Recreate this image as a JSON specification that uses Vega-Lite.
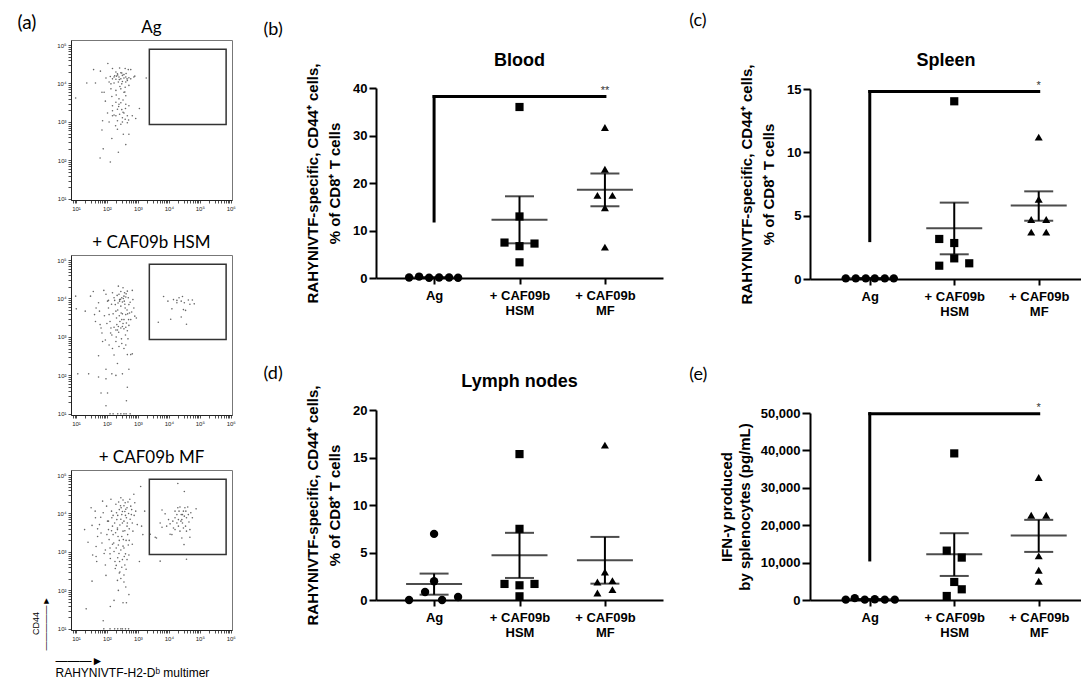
{
"$schema":"https://vega.github.io/schema/vega-lite/v6.json",
"background":"white",
"padding":{"left":17,"top":11,"right":0,"bottom":0},
"config":{"font":"Liberation Sans","view":{"stroke":null},"axis":{"labelOverlap":false,"tickCount":100}},
"datasets":{
"gate":[{"x1":3.37,"x2":5.85,"y1":2.93,"y2":4.89}],
"flowAg":[{"x":2.03,"y":4.52},{"x":1.57,"y":4.36},{"x":1.79,"y":4.32},{"x":2.18,"y":4.39},{"x":2.41,"y":4.40},{"x":2.59,"y":4.39},{"x":2.69,"y":4.36},{"x":2.77,"y":4.36},{"x":2.29,"y":4.30},{"x":2.34,"y":4.25},{"x":2.48,"y":4.27},{"x":2.55,"y":4.23},{"x":1.97,"y":4.14},{"x":2.11,"y":4.18},{"x":2.23,"y":4.17},{"x":2.31,"y":4.19},{"x":2.39,"y":4.17},{"x":2.50,"y":4.21},{"x":2.61,"y":4.17},{"x":2.71,"y":4.15},{"x":2.87,"y":4.17},{"x":2.90,"y":4.19},{"x":2.77,"y":4.12},{"x":2.66,"y":4.08},{"x":2.45,"y":4.12},{"x":2.29,"y":4.11},{"x":2.18,"y":4.12},{"x":2.07,"y":4.04},{"x":2.13,"y":3.99},{"x":2.23,"y":4.01},{"x":2.37,"y":4.04},{"x":2.48,"y":3.99},{"x":2.61,"y":4.04},{"x":2.71,"y":3.95},{"x":2.59,"y":3.90},{"x":1.35,"y":4.01},{"x":1.63,"y":4.01},{"x":0.99,"y":3.62},{"x":1.84,"y":3.77},{"x":1.91,"y":3.77},{"x":2.13,"y":3.86},{"x":2.29,"y":3.82},{"x":2.45,"y":3.86},{"x":2.55,"y":3.77},{"x":2.61,"y":3.68},{"x":2.39,"y":3.60},{"x":2.16,"y":3.66},{"x":1.95,"y":3.54},{"x":2.52,"y":3.57},{"x":2.29,"y":3.51},{"x":2.18,"y":3.42},{"x":2.39,"y":3.46},{"x":2.61,"y":3.46},{"x":2.71,"y":3.42},{"x":3.05,"y":3.35},{"x":3.27,"y":4.14},{"x":2.18,"y":3.29},{"x":2.34,"y":3.33},{"x":2.48,"y":3.32},{"x":2.55,"y":3.23},{"x":2.66,"y":3.16},{"x":2.82,"y":3.16},{"x":2.93,"y":3.09},{"x":2.29,"y":3.16},{"x":2.18,"y":3.16},{"x":2.07,"y":3.00},{"x":1.86,"y":3.03},{"x":2.34,"y":3.03},{"x":2.50,"y":3.00},{"x":2.59,"y":3.07},{"x":2.66,"y":2.98},{"x":2.45,"y":2.94},{"x":2.34,"y":2.81},{"x":1.84,"y":2.79},{"x":2.16,"y":2.57},{"x":2.53,"y":2.68},{"x":2.71,"y":2.68},{"x":2.61,"y":2.41},{"x":1.88,"y":2.30},{"x":2.37,"y":2.21},{"x":1.78,"y":2.06},{"x":2.11,"y":1.96},{"x":2.23,"y":3.18},{"x":2.41,"y":3.20},{"x":2.50,"y":3.11},{"x":2.02,"y":3.23},{"x":2.35,"y":4.22},{"x":2.45,"y":4.28},{"x":2.55,"y":4.14},{"x":2.62,"y":4.26},{"x":2.40,"y":4.10},{"x":2.25,"y":4.20},{"x":2.50,"y":4.05},{"x":2.65,"y":4.12},{"x":2.42,"y":3.92},{"x":2.58,"y":3.78},{"x":2.30,"y":3.70},{"x":2.45,"y":3.50},{"x":2.60,"y":3.35},{"x":2.38,"y":3.40},{"x":2.52,"y":3.25},{"x":2.70,"y":3.05},{"x":2.28,"y":2.90}],
"flowHSM":[{"x":0.99,"y":4.06},{"x":1.01,"y":3.73},{"x":1.30,"y":3.67},{"x":1.47,"y":4.06},{"x":1.56,"y":4.18},{"x":1.65,"y":3.75},{"x":1.60,"y":3.58},{"x":1.63,"y":3.40},{"x":1.73,"y":3.89},{"x":1.76,"y":3.67},{"x":1.78,"y":3.32},{"x":1.81,"y":3.23},{"x":1.84,"y":3.10},{"x":1.86,"y":2.88},{"x":1.90,"y":4.21},{"x":1.97,"y":4.11},{"x":2.02,"y":3.93},{"x":2.05,"y":3.75},{"x":2.07,"y":3.58},{"x":2.10,"y":3.40},{"x":2.13,"y":3.23},{"x":2.16,"y":3.05},{"x":2.18,"y":4.15},{"x":2.23,"y":4.02},{"x":2.27,"y":3.84},{"x":2.29,"y":3.67},{"x":2.31,"y":3.49},{"x":2.32,"y":3.32},{"x":2.34,"y":3.18},{"x":2.37,"y":4.32},{"x":2.39,"y":4.11},{"x":2.41,"y":3.97},{"x":2.45,"y":3.80},{"x":2.46,"y":3.62},{"x":2.48,"y":3.45},{"x":2.50,"y":3.27},{"x":2.52,"y":4.28},{"x":2.55,"y":4.06},{"x":2.56,"y":3.93},{"x":2.59,"y":3.75},{"x":2.61,"y":3.58},{"x":2.63,"y":3.36},{"x":2.66,"y":4.19},{"x":2.69,"y":4.02},{"x":2.71,"y":3.84},{"x":2.73,"y":3.62},{"x":2.77,"y":3.45},{"x":2.82,"y":4.21},{"x":2.84,"y":3.97},{"x":2.87,"y":3.75},{"x":2.90,"y":3.54},{"x":2.95,"y":3.49},{"x":2.48,"y":4.02},{"x":2.53,"y":4.00},{"x":2.61,"y":4.04},{"x":2.41,"y":3.93},{"x":2.50,"y":3.91},{"x":2.37,"y":3.27},{"x":2.45,"y":3.23},{"x":2.55,"y":3.21},{"x":2.61,"y":3.25},{"x":2.23,"y":3.25},{"x":2.29,"y":3.18},{"x":2.66,"y":3.16},{"x":2.71,"y":3.30},{"x":1.73,"y":2.51},{"x":1.95,"y":2.92},{"x":2.07,"y":2.79},{"x":2.18,"y":2.70},{"x":2.23,"y":2.53},{"x":2.29,"y":2.88},{"x":2.39,"y":2.75},{"x":2.48,"y":2.83},{"x":2.55,"y":2.70},{"x":2.61,"y":2.79},{"x":2.66,"y":2.54},{"x":2.82,"y":2.56},{"x":2.77,"y":2.54},{"x":2.34,"y":2.31},{"x":1.97,"y":2.16},{"x":2.16,"y":2.04},{"x":2.29,"y":2.00},{"x":2.50,"y":2.04},{"x":2.71,"y":2.16},{"x":1.06,"y":2.04},{"x":1.41,"y":2.04},{"x":1.73,"y":1.96},{"x":1.97,"y":1.91},{"x":1.81,"y":1.54},{"x":2.02,"y":1.54},{"x":2.66,"y":1.69},{"x":2.63,"y":1.34},{"x":1.97,"y":1.21},{"x":2.10,"y":1.0},{"x":2.20,"y":1.0},{"x":2.35,"y":1.0},{"x":2.45,"y":1.0},{"x":2.55,"y":1.0},{"x":2.62,"y":1.0},{"x":2.75,"y":1.0},{"x":2.15,"y":3.85},{"x":2.20,"y":3.60},{"x":2.25,"y":3.95},{"x":2.35,"y":3.70},{"x":2.40,"y":3.55},{"x":2.42,"y":3.40},{"x":2.50,"y":3.60},{"x":2.55,"y":3.45},{"x":2.58,"y":3.85},{"x":2.65,"y":3.70},{"x":2.70,"y":3.45},{"x":2.75,"y":3.90},{"x":2.80,"y":3.65},{"x":2.33,"y":4.08},{"x":2.45,"y":4.18},{"x":2.62,"y":4.12},{"x":2.52,"y":3.35},{"x":2.38,"y":3.12},{"x":2.30,"y":3.00},{"x":2.60,"y":3.05},{"x":2.68,"y":2.95},{"x":2.47,"y":2.95},{"x":2.12,"y":3.10},{"x":2.00,"y":3.35},{"x":1.92,"y":3.55},{"x":2.05,"y":3.95},{"x":2.57,"y":4.15},{"x":2.44,"y":3.98},{"x":2.36,"y":3.88},{"x":2.67,"y":3.60},{"x":3.83,"y":4.05},{"x":3.97,"y":3.93},{"x":4.15,"y":3.97},{"x":4.26,"y":3.95},{"x":4.33,"y":4.02},{"x":4.44,"y":4.05},{"x":4.40,"y":3.93},{"x":4.63,"y":3.96},{"x":4.76,"y":3.96},{"x":4.82,"y":3.86},{"x":4.47,"y":3.71},{"x":4.54,"y":3.69},{"x":4.10,"y":3.73},{"x":4.40,"y":3.52},{"x":4.06,"y":3.46},{"x":3.66,"y":3.38},{"x":4.57,"y":3.33},{"x":4.26,"y":3.89},{"x":4.50,"y":3.89},{"x":4.68,"y":3.85}],
"flowMF":[{"x":1.28,"y":3.58},{"x":1.39,"y":3.25},{"x":1.49,"y":4.15},{"x":1.52,"y":3.69},{"x":1.54,"y":2.92},{"x":1.62,"y":4.06},{"x":1.63,"y":3.89},{"x":1.65,"y":3.14},{"x":1.67,"y":2.75},{"x":1.70,"y":3.40},{"x":1.76,"y":3.71},{"x":1.81,"y":3.49},{"x":1.84,"y":3.23},{"x":1.86,"y":4.32},{"x":1.88,"y":4.02},{"x":1.91,"y":2.96},{"x":1.95,"y":2.66},{"x":1.97,"y":2.39},{"x":1.99,"y":4.19},{"x":2.02,"y":3.80},{"x":2.05,"y":3.58},{"x":2.07,"y":3.32},{"x":2.10,"y":3.10},{"x":2.11,"y":2.83},{"x":2.13,"y":4.37},{"x":2.15,"y":4.06},{"x":2.16,"y":3.89},{"x":2.18,"y":3.67},{"x":2.20,"y":3.45},{"x":2.22,"y":3.23},{"x":2.23,"y":3.01},{"x":2.26,"y":2.75},{"x":2.27,"y":2.57},{"x":2.29,"y":4.24},{"x":2.31,"y":4.02},{"x":2.32,"y":3.84},{"x":2.34,"y":3.62},{"x":2.36,"y":3.40},{"x":2.37,"y":3.18},{"x":2.39,"y":2.96},{"x":2.41,"y":2.75},{"x":2.42,"y":2.48},{"x":2.45,"y":4.41},{"x":2.46,"y":4.15},{"x":2.48,"y":3.97},{"x":2.50,"y":3.75},{"x":2.52,"y":3.54},{"x":2.53,"y":3.32},{"x":2.55,"y":3.10},{"x":2.56,"y":2.88},{"x":2.58,"y":2.66},{"x":2.59,"y":4.28},{"x":2.61,"y":4.11},{"x":2.63,"y":3.89},{"x":2.65,"y":3.67},{"x":2.67,"y":3.45},{"x":2.69,"y":3.18},{"x":2.71,"y":2.92},{"x":2.74,"y":4.37},{"x":2.77,"y":4.19},{"x":2.79,"y":3.97},{"x":2.82,"y":3.75},{"x":2.84,"y":3.54},{"x":2.87,"y":4.50},{"x":2.90,"y":4.28},{"x":2.93,"y":4.06},{"x":2.98,"y":3.71},{"x":3.05,"y":2.75},{"x":3.12,"y":3.67},{"x":3.16,"y":3.45},{"x":3.09,"y":4.70},{"x":3.22,"y":4.06},{"x":2.34,"y":2.26},{"x":2.45,"y":2.31},{"x":2.55,"y":2.22},{"x":2.37,"y":2.00},{"x":2.61,"y":2.09},{"x":2.71,"y":1.89},{"x":2.23,"y":1.74},{"x":2.52,"y":1.68},{"x":2.63,"y":1.68},{"x":2.11,"y":1.58},{"x":1.52,"y":2.24},{"x":1.33,"y":1.52},{"x":1.88,"y":1.21},{"x":1.65,"y":2.88},{"x":2.40,"y":4.10},{"x":2.50,"y":4.05},{"x":2.55,"y":4.20},{"x":2.60,"y":3.95},{"x":2.65,"y":4.15},{"x":2.70,"y":4.00},{"x":2.45,"y":3.85},{"x":2.55,"y":3.80},{"x":2.35,"y":3.95},{"x":2.42,"y":3.70},{"x":2.58,"y":3.55},{"x":2.48,"y":3.40},{"x":2.40,"y":3.30},{"x":2.62,"y":3.30},{"x":2.52,"y":3.15},{"x":2.45,"y":3.05},{"x":2.60,"y":2.95},{"x":2.35,"y":2.85},{"x":2.50,"y":2.80},{"x":2.65,"y":2.80},{"x":2.30,"y":3.10},{"x":2.28,"y":3.50},{"x":2.25,"y":3.75},{"x":2.72,"y":3.60},{"x":2.75,"y":3.85},{"x":2.68,"y":4.30},{"x":2.52,"y":4.35},{"x":2.38,"y":4.30},{"x":2.80,"y":4.10},{"x":2.20,"y":3.95},{"x":2.18,"y":3.20},{"x":2.15,"y":3.55},{"x":2.05,"y":3.80},{"x":2.00,"y":3.45},{"x":1.95,"y":3.05},{"x":2.10,"y":2.95},{"x":2.30,"y":2.65},{"x":2.48,"y":2.60},{"x":2.62,"y":2.55},{"x":2.40,"y":2.45},{"x":2.55,"y":2.40},{"x":2.72,"y":3.30},{"x":2.82,"y":3.20},{"x":2.88,"y":3.95},{"x":1.80,"y":3.90},{"x":1.70,"y":3.60},{"x":2.58,"y":4.05},{"x":2.44,"y":4.20},{"x":2.66,"y":3.75},{"x":2.34,"y":3.58},{"x":1.90,"y":1.0},{"x":2.10,"y":1.0},{"x":2.25,"y":1.0},{"x":2.35,"y":1.0},{"x":2.45,"y":1.0},{"x":2.50,"y":1.0},{"x":2.60,"y":1.0},{"x":2.70,"y":1.0},{"x":4.29,"y":4.78},{"x":4.50,"y":4.57},{"x":3.78,"y":4.09},{"x":3.88,"y":3.99},{"x":3.72,"y":3.75},{"x":3.78,"y":3.64},{"x":3.99,"y":3.84},{"x":4.04,"y":3.73},{"x":4.13,"y":3.80},{"x":4.20,"y":3.89},{"x":4.26,"y":3.97},{"x":4.29,"y":4.15},{"x":4.33,"y":4.06},{"x":4.36,"y":4.17},{"x":4.40,"y":3.97},{"x":4.42,"y":3.84},{"x":4.44,"y":3.75},{"x":4.47,"y":4.06},{"x":4.50,"y":3.93},{"x":4.52,"y":4.15},{"x":4.54,"y":3.67},{"x":4.57,"y":3.89},{"x":4.61,"y":4.17},{"x":4.63,"y":3.97},{"x":4.65,"y":3.78},{"x":4.68,"y":3.58},{"x":4.71,"y":4.02},{"x":4.76,"y":3.89},{"x":4.88,"y":4.12},{"x":4.31,"y":3.67},{"x":4.20,"y":3.58},{"x":4.36,"y":3.54},{"x":4.10,"y":3.45},{"x":4.04,"y":3.46},{"x":4.42,"y":3.36},{"x":4.68,"y":3.38},{"x":4.49,"y":3.19},{"x":3.56,"y":3.38},{"x":3.60,"y":3.36},{"x":4.26,"y":3.75},{"x":4.39,"y":3.80},{"x":4.47,"y":3.62},{"x":4.57,"y":3.54},{"x":4.31,"y":3.84},{"x":4.44,"y":3.97},{"x":4.55,"y":4.06},{"x":4.20,"y":4.06},{"x":3.93,"y":3.67},{"x":4.15,"y":3.62},{"x":3.72,"y":2.76},{"x":4.57,"y":2.81},{"x":3.40,"y":3.46}],
"dots":[
{"panel":"b","group":"Ag","value":0.1,"jitter":-25},{"panel":"b","group":"Ag","value":0.3,"jitter":-15},{"panel":"b","group":"Ag","value":0.05,"jitter":-5},{"panel":"b","group":"Ag","value":0.1,"jitter":5},{"panel":"b","group":"Ag","value":0.1,"jitter":15},{"panel":"b","group":"Ag","value":0.05,"jitter":24},
{"panel":"b","group":"+ CAF09b HSM","value":36.0,"jitter":0},{"panel":"b","group":"+ CAF09b HSM","value":12.96,"jitter":0},{"panel":"b","group":"+ CAF09b HSM","value":7.46,"jitter":-15},{"panel":"b","group":"+ CAF09b HSM","value":6.7,"jitter":0},{"panel":"b","group":"+ CAF09b HSM","value":7.25,"jitter":15},{"panel":"b","group":"+ CAF09b HSM","value":3.3,"jitter":0},
{"panel":"b","group":"+ CAF09b MF","value":31.7,"jitter":0},{"panel":"b","group":"+ CAF09b MF","value":22.9,"jitter":0},{"panel":"b","group":"+ CAF09b MF","value":17.4,"jitter":-7.5},{"panel":"b","group":"+ CAF09b MF","value":17.4,"jitter":7.5},{"panel":"b","group":"+ CAF09b MF","value":14.8,"jitter":0},{"panel":"b","group":"+ CAF09b MF","value":6.5,"jitter":0},
{"panel":"c","group":"Ag","value":0.05,"jitter":-24},{"panel":"c","group":"Ag","value":0.05,"jitter":-14},{"panel":"c","group":"Ag","value":0.05,"jitter":-4},{"panel":"c","group":"Ag","value":0.05,"jitter":5},{"panel":"c","group":"Ag","value":0.05,"jitter":15},{"panel":"c","group":"Ag","value":0.05,"jitter":24},
{"panel":"c","group":"+ CAF09b HSM","value":14.03,"jitter":0},{"panel":"c","group":"+ CAF09b HSM","value":3.16,"jitter":-15},{"panel":"c","group":"+ CAF09b HSM","value":2.84,"jitter":0},{"panel":"c","group":"+ CAF09b HSM","value":1.63,"jitter":0},{"panel":"c","group":"+ CAF09b HSM","value":1.05,"jitter":-15},{"panel":"c","group":"+ CAF09b HSM","value":1.24,"jitter":15},
{"panel":"c","group":"+ CAF09b MF","value":11.2,"jitter":0},{"panel":"c","group":"+ CAF09b MF","value":6.3,"jitter":0},{"panel":"c","group":"+ CAF09b MF","value":4.7,"jitter":-7.5},{"panel":"c","group":"+ CAF09b MF","value":4.7,"jitter":7.5},{"panel":"c","group":"+ CAF09b MF","value":3.7,"jitter":-7.5},{"panel":"c","group":"+ CAF09b MF","value":3.7,"jitter":7.5},
{"panel":"d","group":"Ag","value":0.0,"jitter":-25},{"panel":"d","group":"Ag","value":0.84,"jitter":-9},{"panel":"d","group":"Ag","value":1.97,"jitter":0},{"panel":"d","group":"Ag","value":6.96,"jitter":0},{"panel":"d","group":"Ag","value":0.0,"jitter":8},{"panel":"d","group":"Ag","value":0.32,"jitter":24},
{"panel":"d","group":"+ CAF09b HSM","value":15.36,"jitter":0},{"panel":"d","group":"+ CAF09b HSM","value":7.49,"jitter":0},{"panel":"d","group":"+ CAF09b HSM","value":1.69,"jitter":-15},{"panel":"d","group":"+ CAF09b HSM","value":1.55,"jitter":0},{"panel":"d","group":"+ CAF09b HSM","value":1.69,"jitter":15},{"panel":"d","group":"+ CAF09b HSM","value":0.39,"jitter":0},
{"panel":"d","group":"+ CAF09b MF","value":16.3,"jitter":0},{"panel":"d","group":"+ CAF09b MF","value":2.95,"jitter":0},{"panel":"d","group":"+ CAF09b MF","value":1.9,"jitter":-7.5},{"panel":"d","group":"+ CAF09b MF","value":2.04,"jitter":7.5},{"panel":"d","group":"+ CAF09b MF","value":0.74,"jitter":-7.5},{"panel":"d","group":"+ CAF09b MF","value":1.09,"jitter":7.5},
{"panel":"e","group":"Ag","value":100,"jitter":-24},{"panel":"e","group":"Ag","value":500,"jitter":-15},{"panel":"e","group":"Ag","value":100,"jitter":-5},{"panel":"e","group":"Ag","value":200,"jitter":5},{"panel":"e","group":"Ag","value":100,"jitter":15},{"panel":"e","group":"Ag","value":100,"jitter":25},
{"panel":"e","group":"+ CAF09b HSM","value":39200,"jitter":0},{"panel":"e","group":"+ CAF09b HSM","value":13200,"jitter":-7.5},{"panel":"e","group":"+ CAF09b HSM","value":11340,"jitter":7.5},{"panel":"e","group":"+ CAF09b HSM","value":4820,"jitter":0},{"panel":"e","group":"+ CAF09b HSM","value":2860,"jitter":7.5},{"panel":"e","group":"+ CAF09b HSM","value":1070,"jitter":-7.5},
{"panel":"e","group":"+ CAF09b MF","value":32770,"jitter":0},{"panel":"e","group":"+ CAF09b MF","value":22680,"jitter":-7.5},{"panel":"e","group":"+ CAF09b MF","value":22680,"jitter":7.5},{"panel":"e","group":"+ CAF09b MF","value":11790,"jitter":0},{"panel":"e","group":"+ CAF09b MF","value":7950,"jitter":0},{"panel":"e","group":"+ CAF09b MF","value":5000,"jitter":0}],
"stats":[
{"panel":"b","group":"Ag","mean":0.1,"lo":0.05,"hi":0.15},{"panel":"b","group":"+ CAF09b HSM","mean":12.25,"lo":7.3,"hi":17.2},{"panel":"b","group":"+ CAF09b MF","mean":18.6,"lo":15.1,"hi":22.0},
{"panel":"c","group":"Ag","mean":0.05,"lo":0.03,"hi":0.07},{"panel":"c","group":"+ CAF09b HSM","mean":4.0,"lo":1.95,"hi":6.03},{"panel":"c","group":"+ CAF09b MF","mean":5.8,"lo":4.6,"hi":6.92},
{"panel":"d","group":"Ag","mean":1.69,"lo":0.56,"hi":2.78},{"panel":"d","group":"+ CAF09b HSM","mean":4.71,"lo":2.32,"hi":7.07},{"panel":"d","group":"+ CAF09b MF","mean":4.18,"lo":1.72,"hi":6.64},
{"panel":"e","group":"Ag","mean":180,"lo":100,"hi":260},{"panel":"e","group":"+ CAF09b HSM","mean":12230,"lo":6430,"hi":17860},{"panel":"e","group":"+ CAF09b MF","mean":17230,"lo":12860,"hi":21430}],
"sig":[
{"panel":"b","group":"Ag","group2":"+ CAF09b MF","lo":12,"hi":38.2,"label":"**"},
{"panel":"c","group":"Ag","group2":"+ CAF09b MF","lo":3.03,"hi":14.8,"label":"*"},
{"panel":"e","group":"Ag","group2":"+ CAF09b MF","lo":10710,"hi":49820,"label":"*"}]
},
"columns":2,
"align":"none",
"spacing":27,
"concat":[
{
"title":{"text":"(a)","orient":"left","angle":0,"anchor":"end","frame":"bounds","align":"right","baseline":"top","offset":-24,"dy":-5,"font":"Lato","fontSize":19,"fontWeight":"normal","color":"#000"},
"spacing":21,
"vconcat":[
{"width":161,"height":160,"view":{"stroke":"#777","strokeWidth":1},
"title":{"text":"Ag","font":"Lato","fontSize":17,"fontWeight":"normal","color":"#000","baseline":"top","offset":3,"anchor":"middle","frame":"group"},
"layer":[
{"data":{"name":"flowAg"},"mark":{"type":"circle","size":2.5,"color":"#555","opacity":0.9},
"encoding":{
"x":{"field":"x","type":"quantitative","scale":{"domain":[0.84,6.04],"nice":false,"zero":false},"axis":{"title":null,"grid":false,"tickCount":100,"values":[0.903,0.954,1,1.301,1.477,1.602,1.699,1.778,1.845,1.903,1.954,2,2.301,2.477,2.602,2.699,2.778,2.845,2.903,2.954,3,3.301,3.477,3.602,3.699,3.778,3.845,3.903,3.954,4,4.301,4.477,4.602,4.699,4.778,4.845,4.903,4.954,5,5.301,5.477,5.602,5.699,5.778,5.845,5.903,5.954,6],"labelExpr":"datum.value % 1 === 0 ? '10' + ['⁰','¹','²','³','⁴','⁵','⁶'][datum.value] : ''","labelFontSize":6,"labelColor":"#222","labelPadding":2,"labelOverlap":false,"labelFlush":false,"tickSize":3,"tickColor":"#222","tickWidth":0.8,"domainColor":"#222","domainWidth":1}},
"y":{"field":"y","type":"quantitative","scale":{"domain":[0.97,5.13],"nice":false,"zero":false},"axis":{"title":null,"grid":false,"tickCount":100,"values":[1,1.301,1.477,1.602,1.699,1.778,1.845,1.903,1.954,2,2.301,2.477,2.602,2.699,2.778,2.845,2.903,2.954,3,3.301,3.477,3.602,3.699,3.778,3.845,3.903,3.954,4,4.301,4.477,4.602,4.699,4.778,4.845,4.903,4.954,5],"labelExpr":"datum.value % 1 === 0 ? '10' + ['⁰','¹','²','³','⁴','⁵','⁶'][datum.value] : ''","labelFontSize":6,"labelColor":"#222","labelPadding":2,"labelOverlap":false,"labelFlush":false,"tickSize":3,"tickColor":"#222","tickWidth":0.8,"domainColor":"#222","domainWidth":1}}}},
{"data":{"name":"gate"},"mark":{"type":"rect","fillOpacity":0,"stroke":"#333","strokeWidth":1.5},
"encoding":{"x":{"field":"x1","type":"quantitative"},"x2":{"field":"x2"},"y":{"field":"y1","type":"quantitative"},"y2":{"field":"y2"}}}
]},
{"width":161,"height":160,"view":{"stroke":"#777","strokeWidth":1},
"title":{"text":"+ CAF09b HSM","font":"Lato","fontSize":17,"fontWeight":"normal","color":"#000","baseline":"top","offset":3,"anchor":"middle","frame":"group"},
"layer":[
{"data":{"name":"flowHSM"},"mark":{"type":"circle","size":2.5,"color":"#555","opacity":0.9},
"encoding":{
"x":{"field":"x","type":"quantitative","scale":{"domain":[0.84,6.04],"nice":false,"zero":false},"axis":{"title":null,"grid":false,"tickCount":100,"values":[0.903,0.954,1,1.301,1.477,1.602,1.699,1.778,1.845,1.903,1.954,2,2.301,2.477,2.602,2.699,2.778,2.845,2.903,2.954,3,3.301,3.477,3.602,3.699,3.778,3.845,3.903,3.954,4,4.301,4.477,4.602,4.699,4.778,4.845,4.903,4.954,5,5.301,5.477,5.602,5.699,5.778,5.845,5.903,5.954,6],"labelExpr":"datum.value % 1 === 0 ? '10' + ['⁰','¹','²','³','⁴','⁵','⁶'][datum.value] : ''","labelFontSize":6,"labelColor":"#222","labelPadding":2,"labelOverlap":false,"labelFlush":false,"tickSize":3,"tickColor":"#222","tickWidth":0.8,"domainColor":"#222","domainWidth":1}},
"y":{"field":"y","type":"quantitative","scale":{"domain":[0.97,5.13],"nice":false,"zero":false},"axis":{"title":null,"grid":false,"tickCount":100,"values":[1,1.301,1.477,1.602,1.699,1.778,1.845,1.903,1.954,2,2.301,2.477,2.602,2.699,2.778,2.845,2.903,2.954,3,3.301,3.477,3.602,3.699,3.778,3.845,3.903,3.954,4,4.301,4.477,4.602,4.699,4.778,4.845,4.903,4.954,5],"labelExpr":"datum.value % 1 === 0 ? '10' + ['⁰','¹','²','³','⁴','⁵','⁶'][datum.value] : ''","labelFontSize":6,"labelColor":"#222","labelPadding":2,"labelOverlap":false,"labelFlush":false,"tickSize":3,"tickColor":"#222","tickWidth":0.8,"domainColor":"#222","domainWidth":1}}}},
{"data":{"name":"gate"},"mark":{"type":"rect","fillOpacity":0,"stroke":"#333","strokeWidth":1.5},
"encoding":{"x":{"field":"x1","type":"quantitative"},"x2":{"field":"x2"},"y":{"field":"y1","type":"quantitative"},"y2":{"field":"y2"}}}
]},
{"width":161,"height":160,"view":{"stroke":"#777","strokeWidth":1},
"title":{"text":"+ CAF09b MF","font":"Lato","fontSize":17,"fontWeight":"normal","color":"#000","baseline":"top","offset":3,"anchor":"middle","frame":"group"},
"layer":[
{"data":{"name":"flowMF"},"mark":{"type":"circle","size":2.5,"color":"#555","opacity":0.9},
"encoding":{
"x":{"field":"x","type":"quantitative","scale":{"domain":[0.84,6.04],"nice":false,"zero":false},"axis":{"title":["———►","RAHYNIVTF-H2-Dᵇ multimer"],"titleFont":"Liberation Sans","titleFontSize":12,"titleFontWeight":"normal","titleColor":"#000","titleLineHeight":12,"titleAlign":"left","titleAnchor":"start","titleX":-16,"titlePadding":14,"grid":false,"tickCount":100,"values":[0.903,0.954,1,1.301,1.477,1.602,1.699,1.778,1.845,1.903,1.954,2,2.301,2.477,2.602,2.699,2.778,2.845,2.903,2.954,3,3.301,3.477,3.602,3.699,3.778,3.845,3.903,3.954,4,4.301,4.477,4.602,4.699,4.778,4.845,4.903,4.954,5,5.301,5.477,5.602,5.699,5.778,5.845,5.903,5.954,6],"labelExpr":"datum.value % 1 === 0 ? '10' + ['⁰','¹','²','³','⁴','⁵','⁶'][datum.value] : ''","labelFontSize":6,"labelColor":"#222","labelPadding":2,"labelOverlap":false,"labelFlush":false,"tickSize":3,"tickColor":"#222","tickWidth":0.8,"domainColor":"#222","domainWidth":1}},
"y":{"field":"y","type":"quantitative","scale":{"domain":[0.97,5.13],"nice":false,"zero":false},"axis":{"title":["CD44","—————►"],"titleFont":"Liberation Sans","titleFontSize":9,"titleFontWeight":"normal","titleColor":"#000","titleLineHeight":10,"titleAlign":"center","titleY":153,"titlePadding":6,"grid":false,"tickCount":100,"values":[1,1.301,1.477,1.602,1.699,1.778,1.845,1.903,1.954,2,2.301,2.477,2.602,2.699,2.778,2.845,2.903,2.954,3,3.301,3.477,3.602,3.699,3.778,3.845,3.903,3.954,4,4.301,4.477,4.602,4.699,4.778,4.845,4.903,4.954,5],"labelExpr":"datum.value % 1 === 0 ? '10' + ['⁰','¹','²','³','⁴','⁵','⁶'][datum.value] : ''","labelFontSize":6,"labelColor":"#222","labelPadding":2,"labelOverlap":false,"labelFlush":false,"tickSize":3,"tickColor":"#222","tickWidth":0.8,"domainColor":"#222","domainWidth":1}}}},
{"data":{"name":"gate"},"mark":{"type":"rect","fillOpacity":0,"stroke":"#333","strokeWidth":1.5},
"encoding":{"x":{"field":"x1","type":"quantitative"},"x2":{"field":"x2"},"y":{"field":"y1","type":"quantitative"},"y2":{"field":"y2"}}}
]}
]
},
{
"columns":2,
"align":"none",
"spacing":26,
"concat":[
{
"title":{"text":"(b)","anchor":"start","frame":"bounds","font":"Lato","fontSize":18,"fontWeight":"normal","color":"#000","baseline":"alphabetic","offset":-18,"dx":0},
"spacing":5,
"vconcat":[
{"width":287,"height":1,"data":{"values":[{}]},"mark":{"type":"text","text":""},"encoding":{}},
{"spacing":47,
"vconcat":[
{"width":287,"height":190,
"title":{"text":"Blood","font":"Liberation Sans","fontSize":18,"fontWeight":"bold","color":"#000","baseline":"alphabetic","offset":-21,"anchor":"middle","frame":"group"},
"encoding":{"x":{"field":"group","type":"nominal","scale":{"type":"point","domain":["Ag","+ CAF09b HSM","+ CAF09b MF"],"padding":0.68},"axis":{"title":null,"labelAngle":0,"labelExpr":"datum.label == 'Ag' ? 'Ag' : ['+ CAF09b', substring(datum.label, 9)]","labelFont":"Liberation Sans","labelFontWeight":"bold","labelFontSize":13,"labelColor":"#000","labelLineHeight":15,"labelPadding":5,"labelBaseline":"top","labelOverlap":false,"domainColor":"#000","domainWidth":2,"tickColor":"#000","tickWidth":2,"tickSize":6}}},
"layer":[
{"data":{"name":"dots"},"transform":[{"filter":"datum.panel === 'b'"}],"mark":{"type":"point","filled":true,"opacity":1,"color":"#000"},
"encoding":{"y":{"field":"value","type":"quantitative","scale":{"domain":[0,40],"nice":false},"axis":{"values":[0,10,20,30,40],"tickCount":100,"labelExpr":"format(datum.value, ',')","labelOverlap":false,"title":["RAHYNIVTF-specific, CD44⁺ cells,","% of CD8⁺ T cells"],"labelFont":"Liberation Sans","labelFontWeight":"bold","labelFontSize":13,"labelColor":"#000","labelPadding":2,"domainColor":"#000","domainWidth":2,"tickColor":"#000","tickWidth":2,"tickSize":7,"grid":false,"titleFont":"Liberation Sans","titleFontWeight":"bold","titleFontSize":15,"titleColor":"#000","titleLineHeight":22,"titlePadding":10}},
"xOffset":{"field":"jitter","type":"quantitative","scale":{"domain":[-30,30],"range":[-30,30]}},
"shape":{"field":"group","type":"nominal","scale":{"domain":["Ag","+ CAF09b HSM","+ CAF09b MF"],"range":["circle","square","triangle-up"]},"legend":null},
"size":{"field":"group","type":"nominal","scale":{"domain":["Ag","+ CAF09b HSM","+ CAF09b MF"],"range":[70,64,80]},"legend":null}}},
{"data":{"name":"stats"},"transform":[{"filter":"datum.panel === 'b'"}],"mark":{"type":"tick","size":56,"thickness":2,"color":"#000"},"encoding":{"y":{"field":"mean","type":"quantitative"}}},
{"data":{"name":"stats"},"transform":[{"filter":"datum.panel === 'b'"}],"mark":{"type":"tick","size":29,"thickness":2,"color":"#000"},"encoding":{"y":{"field":"hi","type":"quantitative"}}},
{"data":{"name":"stats"},"transform":[{"filter":"datum.panel === 'b'"}],"mark":{"type":"tick","size":29,"thickness":2,"color":"#000"},"encoding":{"y":{"field":"lo","type":"quantitative"}}},
{"data":{"name":"stats"},"transform":[{"filter":"datum.panel === 'b'"}],"mark":{"type":"rule","strokeWidth":2,"color":"#000"},"encoding":{"y":{"field":"lo","type":"quantitative"},"y2":{"field":"hi"}}},
{"data":{"name":"sig"},"transform":[{"filter":"datum.panel === 'b'"}],"mark":{"type":"rule","strokeWidth":3,"color":"#000","strokeCap":"square"},"encoding":{"y":{"field":"lo","type":"quantitative"},"y2":{"field":"hi"}}},
{"data":{"name":"sig"},"transform":[{"filter":"datum.panel === 'b'"}],"mark":{"type":"rule","strokeWidth":3,"color":"#000","strokeCap":"square"},"encoding":{"x2":{"field":"group2"},"y":{"field":"hi","type":"quantitative"}}},
{"data":{"name":"sig"},"transform":[{"filter":"datum.panel === 'b'"}],"mark":{"type":"text","fontSize":11,"color":"#333","baseline":"bottom","dy":-1},"encoding":{"x":{"field":"group2","type":"nominal"},"y":{"field":"hi","type":"quantitative"},"text":{"field":"label"}}}
]},
{"title":{"text":"(d)","anchor":"start","frame":"bounds","font":"Lato","fontSize":18,"fontWeight":"normal","color":"#000","baseline":"alphabetic","offset":-24,"dx":-42},
"vconcat":[
{"width":287,"height":190,
"title":{"text":"Lymph nodes","font":"Liberation Sans","fontSize":18,"fontWeight":"bold","color":"#000","baseline":"alphabetic","offset":-20,"anchor":"middle","frame":"group"},
"encoding":{"x":{"field":"group","type":"nominal","scale":{"type":"point","domain":["Ag","+ CAF09b HSM","+ CAF09b MF"],"padding":0.68},"axis":{"title":null,"labelAngle":0,"labelExpr":"datum.label == 'Ag' ? 'Ag' : ['+ CAF09b', substring(datum.label, 9)]","labelFont":"Liberation Sans","labelFontWeight":"bold","labelFontSize":13,"labelColor":"#000","labelLineHeight":15,"labelPadding":5,"labelBaseline":"top","labelOverlap":false,"domainColor":"#000","domainWidth":2,"tickColor":"#000","tickWidth":2,"tickSize":6}}},
"layer":[
{"data":{"name":"dots"},"transform":[{"filter":"datum.panel === 'd'"}],"mark":{"type":"point","filled":true,"opacity":1,"color":"#000"},
"encoding":{"y":{"field":"value","type":"quantitative","scale":{"domain":[0,20],"nice":false},"axis":{"values":[0,5,10,15,20],"tickCount":100,"labelExpr":"format(datum.value, ',')","labelOverlap":false,"title":["RAHYNIVTF-specific, CD44⁺ cells,","% of CD8⁺ T cells"],"labelFont":"Liberation Sans","labelFontWeight":"bold","labelFontSize":13,"labelColor":"#000","labelPadding":2,"domainColor":"#000","domainWidth":2,"tickColor":"#000","tickWidth":2,"tickSize":7,"grid":false,"titleFont":"Liberation Sans","titleFontWeight":"bold","titleFontSize":15,"titleColor":"#000","titleLineHeight":22,"titlePadding":10}},
"xOffset":{"field":"jitter","type":"quantitative","scale":{"domain":[-30,30],"range":[-30,30]}},
"shape":{"field":"group","type":"nominal","scale":{"domain":["Ag","+ CAF09b HSM","+ CAF09b MF"],"range":["circle","square","triangle-up"]},"legend":null},
"size":{"field":"group","type":"nominal","scale":{"domain":["Ag","+ CAF09b HSM","+ CAF09b MF"],"range":[70,64,80]},"legend":null}}},
{"data":{"name":"stats"},"transform":[{"filter":"datum.panel === 'd'"}],"mark":{"type":"tick","size":56,"thickness":2,"color":"#000"},"encoding":{"y":{"field":"mean","type":"quantitative"}}},
{"data":{"name":"stats"},"transform":[{"filter":"datum.panel === 'd'"}],"mark":{"type":"tick","size":29,"thickness":2,"color":"#000"},"encoding":{"y":{"field":"hi","type":"quantitative"}}},
{"data":{"name":"stats"},"transform":[{"filter":"datum.panel === 'd'"}],"mark":{"type":"tick","size":29,"thickness":2,"color":"#000"},"encoding":{"y":{"field":"lo","type":"quantitative"}}},
{"data":{"name":"stats"},"transform":[{"filter":"datum.panel === 'd'"}],"mark":{"type":"rule","strokeWidth":2,"color":"#000"},"encoding":{"y":{"field":"lo","type":"quantitative"},"y2":{"field":"hi"}}}
]}
]}
]}
]},
{
"title":{"text":"(c)","anchor":"start","frame":"bounds","font":"Lato","fontSize":18,"fontWeight":"normal","color":"#000","baseline":"alphabetic","offset":-9,"dx":0},
"spacing":5,
"vconcat":[
{"width":272,"height":1,"data":{"values":[{}]},"mark":{"type":"text","text":""},"encoding":{}},
{"spacing":47,
"vconcat":[
{"width":272,"height":190,
"title":{"text":"Spleen","font":"Liberation Sans","fontSize":18,"fontWeight":"bold","color":"#000","baseline":"alphabetic","offset":-20,"anchor":"middle","frame":"group"},
"encoding":{"x":{"field":"group","type":"nominal","scale":{"type":"point","domain":["Ag","+ CAF09b HSM","+ CAF09b MF"],"padding":0.61,"align":0.58},"axis":{"title":null,"labelAngle":0,"labelExpr":"datum.label == 'Ag' ? 'Ag' : ['+ CAF09b', substring(datum.label, 9)]","labelFont":"Liberation Sans","labelFontWeight":"bold","labelFontSize":13,"labelColor":"#000","labelLineHeight":15,"labelPadding":5,"labelBaseline":"top","labelOverlap":false,"domainColor":"#000","domainWidth":2,"tickColor":"#000","tickWidth":2,"tickSize":6}}},
"layer":[
{"data":{"name":"dots"},"transform":[{"filter":"datum.panel === 'c'"}],"mark":{"type":"point","filled":true,"opacity":1,"color":"#000"},
"encoding":{"y":{"field":"value","type":"quantitative","scale":{"domain":[0,15],"nice":false},"axis":{"values":[0,5,10,15],"tickCount":100,"labelExpr":"format(datum.value, ',')","labelOverlap":false,"title":["RAHYNIVTF-specific, CD44⁺ cells,","% of CD8⁺ T cells"],"labelFont":"Liberation Sans","labelFontWeight":"bold","labelFontSize":13,"labelColor":"#000","labelPadding":2,"domainColor":"#000","domainWidth":2,"tickColor":"#000","tickWidth":2,"tickSize":7,"grid":false,"titleFont":"Liberation Sans","titleFontWeight":"bold","titleFontSize":15,"titleColor":"#000","titleLineHeight":22,"titlePadding":10}},
"xOffset":{"field":"jitter","type":"quantitative","scale":{"domain":[-30,30],"range":[-30,30]}},
"shape":{"field":"group","type":"nominal","scale":{"domain":["Ag","+ CAF09b HSM","+ CAF09b MF"],"range":["circle","square","triangle-up"]},"legend":null},
"size":{"field":"group","type":"nominal","scale":{"domain":["Ag","+ CAF09b HSM","+ CAF09b MF"],"range":[70,64,80]},"legend":null}}},
{"data":{"name":"stats"},"transform":[{"filter":"datum.panel === 'c'"}],"mark":{"type":"tick","size":56,"thickness":2,"color":"#000"},"encoding":{"y":{"field":"mean","type":"quantitative"}}},
{"data":{"name":"stats"},"transform":[{"filter":"datum.panel === 'c'"}],"mark":{"type":"tick","size":29,"thickness":2,"color":"#000"},"encoding":{"y":{"field":"hi","type":"quantitative"}}},
{"data":{"name":"stats"},"transform":[{"filter":"datum.panel === 'c'"}],"mark":{"type":"tick","size":29,"thickness":2,"color":"#000"},"encoding":{"y":{"field":"lo","type":"quantitative"}}},
{"data":{"name":"stats"},"transform":[{"filter":"datum.panel === 'c'"}],"mark":{"type":"rule","strokeWidth":2,"color":"#000"},"encoding":{"y":{"field":"lo","type":"quantitative"},"y2":{"field":"hi"}}},
{"data":{"name":"sig"},"transform":[{"filter":"datum.panel === 'c'"}],"mark":{"type":"rule","strokeWidth":3,"color":"#000","strokeCap":"square"},"encoding":{"y":{"field":"lo","type":"quantitative"},"y2":{"field":"hi"}}},
{"data":{"name":"sig"},"transform":[{"filter":"datum.panel === 'c'"}],"mark":{"type":"rule","strokeWidth":3,"color":"#000","strokeCap":"square"},"encoding":{"x2":{"field":"group2"},"y":{"field":"hi","type":"quantitative"}}},
{"data":{"name":"sig"},"transform":[{"filter":"datum.panel === 'c'"}],"mark":{"type":"text","fontSize":11,"color":"#333","baseline":"bottom","dy":-1},"encoding":{"x":{"field":"group2","type":"nominal"},"y":{"field":"hi","type":"quantitative"},"text":{"field":"label"}}}
]},
{"title":{"text":"(e)","anchor":"start","frame":"bounds","font":"Lato","fontSize":18,"fontWeight":"normal","color":"#000","baseline":"alphabetic","offset":4,"dx":-30},
"vconcat":[
{"width":272,"height":187,
"encoding":{"x":{"field":"group","type":"nominal","scale":{"type":"point","domain":["Ag","+ CAF09b HSM","+ CAF09b MF"],"padding":0.61,"align":0.58},"axis":{"title":null,"labelAngle":0,"labelExpr":"datum.label == 'Ag' ? 'Ag' : ['+ CAF09b', substring(datum.label, 9)]","labelFont":"Liberation Sans","labelFontWeight":"bold","labelFontSize":13,"labelColor":"#000","labelLineHeight":15,"labelPadding":5,"labelBaseline":"top","labelOverlap":false,"domainColor":"#000","domainWidth":2,"tickColor":"#000","tickWidth":2,"tickSize":6}}},
"layer":[
{"data":{"name":"dots"},"transform":[{"filter":"datum.panel === 'e'"}],"mark":{"type":"point","filled":true,"opacity":1,"color":"#000"},
"encoding":{"y":{"field":"value","type":"quantitative","scale":{"domain":[0,50000],"nice":false},"axis":{"values":[0,10000,20000,30000,40000,50000],"tickCount":100,"labelExpr":"format(datum.value, ',')","labelOverlap":false,"title":["IFN-γ produced","by splenocytes (pg/mL)"],"labelFont":"Liberation Sans","labelFontWeight":"bold","labelFontSize":13,"labelColor":"#000","labelPadding":2,"domainColor":"#000","domainWidth":2,"tickColor":"#000","tickWidth":2,"tickSize":8,"grid":false,"titleFont":"Liberation Sans","titleFontWeight":"bold","titleFontSize":15,"titleColor":"#000","titleLineHeight":18,"titlePadding":8}},
"xOffset":{"field":"jitter","type":"quantitative","scale":{"domain":[-30,30],"range":[-30,30]}},
"shape":{"field":"group","type":"nominal","scale":{"domain":["Ag","+ CAF09b HSM","+ CAF09b MF"],"range":["circle","square","triangle-up"]},"legend":null},
"size":{"field":"group","type":"nominal","scale":{"domain":["Ag","+ CAF09b HSM","+ CAF09b MF"],"range":[70,64,80]},"legend":null}}},
{"data":{"name":"stats"},"transform":[{"filter":"datum.panel === 'e'"}],"mark":{"type":"tick","size":56,"thickness":2,"color":"#000"},"encoding":{"y":{"field":"mean","type":"quantitative"}}},
{"data":{"name":"stats"},"transform":[{"filter":"datum.panel === 'e'"}],"mark":{"type":"tick","size":29,"thickness":2,"color":"#000"},"encoding":{"y":{"field":"hi","type":"quantitative"}}},
{"data":{"name":"stats"},"transform":[{"filter":"datum.panel === 'e'"}],"mark":{"type":"tick","size":29,"thickness":2,"color":"#000"},"encoding":{"y":{"field":"lo","type":"quantitative"}}},
{"data":{"name":"stats"},"transform":[{"filter":"datum.panel === 'e'"}],"mark":{"type":"rule","strokeWidth":2,"color":"#000"},"encoding":{"y":{"field":"lo","type":"quantitative"},"y2":{"field":"hi"}}},
{"data":{"name":"sig"},"transform":[{"filter":"datum.panel === 'e'"}],"mark":{"type":"rule","strokeWidth":3,"color":"#000","strokeCap":"square"},"encoding":{"y":{"field":"lo","type":"quantitative"},"y2":{"field":"hi"}}},
{"data":{"name":"sig"},"transform":[{"filter":"datum.panel === 'e'"}],"mark":{"type":"rule","strokeWidth":3,"color":"#000","strokeCap":"square"},"encoding":{"x2":{"field":"group2"},"y":{"field":"hi","type":"quantitative"}}},
{"data":{"name":"sig"},"transform":[{"filter":"datum.panel === 'e'"}],"mark":{"type":"text","fontSize":11,"color":"#333","baseline":"bottom","dy":-1},"encoding":{"x":{"field":"group2","type":"nominal"},"y":{"field":"hi","type":"quantitative"},"text":{"field":"label"}}}
]}
]}
]}
]}
]}
]
}
